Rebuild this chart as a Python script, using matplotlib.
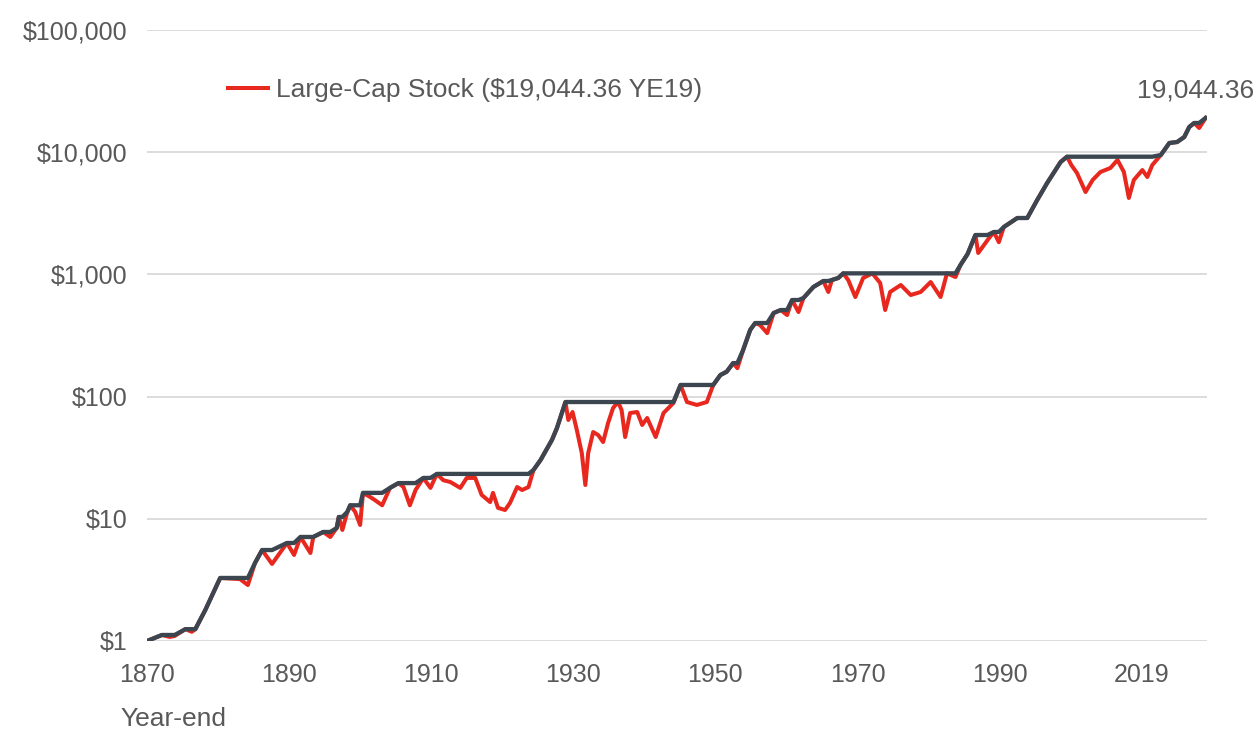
import matplotlib
matplotlib.use("Agg")
import matplotlib.pyplot as plt
from matplotlib.lines import Line2D
from matplotlib.ticker import FixedLocator, FuncFormatter
import numpy as np

plt.rcParams['font.family'] = ['Liberation Sans', 'DejaVu Sans']

# growth of $1 in large-cap stocks, year-end 1870 through 2019
years = [1870.0, 1872.1, 1873.2, 1873.9, 1875.4, 1876.3, 1876.8, 1878.2, 1880.3, 1883.1,
         1884.2, 1885.2, 1886.2, 1887.6, 1889.7, 1890.7, 1891.6, 1893.0, 1893.4, 1894.8,
         1895.8, 1896.7, 1897.0, 1897.5, 1898.2, 1898.6, 1899.3, 1900.0, 1900.4, 1901.4,
         1902.1, 1903.1, 1904.2, 1905.4, 1906.1, 1907.0, 1907.8, 1908.9, 1909.9, 1910.8,
         1911.7, 1912.7, 1914.1, 1915.0, 1916.2, 1917.1, 1918.3, 1918.7, 1919.4, 1920.4,
         1921.1, 1922.1, 1922.8, 1923.7, 1924.4, 1925.4, 1927.0, 1927.7, 1928.9, 1929.3,
         1929.9, 1930.5, 1931.2, 1931.7, 1932.1, 1932.8, 1933.5, 1934.2, 1934.9, 1935.6,
         1936.3, 1936.8, 1937.3, 1938.0, 1939.0, 1939.7, 1940.4, 1941.6, 1942.7, 1944.1,
         1945.1, 1946.0, 1947.4, 1948.8, 1949.7, 1950.7, 1951.6, 1952.5, 1953.1, 1953.9,
         1954.9, 1955.6, 1956.3, 1957.3, 1958.2, 1959.2, 1960.1, 1960.8, 1961.7, 1962.4,
         1963.8, 1965.2, 1965.9, 1966.4, 1967.3, 1968.0, 1968.7, 1969.7, 1970.8, 1972.1,
         1973.2, 1973.9, 1974.6, 1976.1, 1977.5, 1978.9, 1980.3, 1981.7, 1982.6, 1983.8,
         1984.5, 1985.5, 1986.6, 1987.0, 1988.3, 1989.2, 1989.9, 1990.6, 1992.5, 1993.9,
         1995.3, 1996.7, 1997.6, 1998.6, 1999.5, 2000.1, 2000.9, 2002.1, 2003.1, 2004.2,
         2005.6, 2006.6, 2007.5, 2008.2, 2008.9, 2010.1, 2010.8, 2011.5, 2012.7, 2013.9,
         2015.0, 2016.0, 2016.7, 2017.4, 2018.1, 2019.0]
values = [1.00, 1.12, 1.08, 1.10, 1.25, 1.19, 1.25, 1.79, 3.28, 3.21,
          2.87, 4.35, 5.55, 4.27, 6.34, 5.06, 7.10, 5.25, 7.10, 7.80,
          7.10, 8.41, 10.35, 8.10, 11.4, 12.9, 11.4, 8.9, 16.3, 15.1,
          14.2, 12.9, 17.9, 19.6, 18.2, 12.9, 17.2, 21.6, 17.9, 23.3,
          20.7, 20.0, 17.9, 21.6, 21.6, 15.7, 13.7, 16.3, 12.3, 11.8,
          13.5, 18.2, 17.2, 18.2, 25.1, 30.3, 44.2, 55.3, 90.3, 64.4,
          74.8, 53.3, 34.5, 18.9, 34.5, 51.3, 48.5, 42.5, 60.8, 80.7,
          90.3, 77.7, 46.7, 73.4, 74.8, 58.6, 66.8, 46.7, 73.4, 88.7,
          124.5, 90.3, 85.4, 90.3, 124.5, 150, 160, 188, 171, 240,
          351, 400, 385, 331, 483, 511, 465, 617, 492, 641,
          789, 883, 718, 900, 935, 1020, 900, 653, 935, 1020,
          851, 511, 718, 819, 678, 718, 866, 653, 1020, 952,
          1194, 1469, 2100, 1497, 1906, 2224, 1835, 2443, 2894, 2894,
          4063, 5598, 6758, 8318, 9187, 7855, 6758, 4723, 5922, 6887,
          7425, 8636, 6887, 4220, 5922, 7148, 6266, 7855, 9487, 11890,
          12120, 13310, 16080, 17340, 15780, 19044.36]

tick_years = [1870, 1890, 1910, 1930, 1950, 1970, 1990, 2010]
tick_labels = ['1870', '1890', '1910', '1930', '1950', '1970', '1990', '2019']
y_ticks = [1, 10, 100, 1000, 10000, 100000]

years = np.array(years)
values = np.array(values)
peak = np.maximum.accumulate(values)

red = '#e8281e'
slate = '#3b4651'
grey_text = '#595959'

fig = plt.figure(figsize=(12.58, 7.32), dpi=100)
ax = fig.add_axes([147 / 1258, 1 - 641 / 732, (1207 - 147) / 1258, (641 - 30) / 732])

ax.plot(years, values, color=red, lw=2.9, solid_joinstyle='round', zorder=3)
ax.plot(years, peak, color=slate, lw=3.1, solid_joinstyle='round', zorder=4)

ax.set_yscale('log')
ax.set_ylim(1, 100000)
ax.set_xlim(1870, 2019.2)
ax.yaxis.set_major_locator(FixedLocator(y_ticks))
ax.yaxis.set_minor_locator(FixedLocator([]))
ax.yaxis.set_major_formatter(FuncFormatter(lambda v, p: '${:,.0f}'.format(v)))
ax.set_xticks(tick_years)
ax.set_xticklabels(tick_labels)

ax.grid(axis='y', color='#d9d9d9', lw=1.3, zorder=0)
for s in ax.spines.values():
    s.set_visible(False)
ax.tick_params(axis='both', length=0, labelsize=18, labelcolor=grey_text)
ax.tick_params(axis='x', pad=16)
ax.tick_params(axis='y', pad=14)

# end value callout
ax.annotate('19,044.36', xy=(years[-1], values[-1]), xytext=(-10, 28),
            textcoords='offset pixels', ha='center', va='center',
            fontsize=19, color=grey_text)

handle = Line2D([], [], color=red, lw=2.9)
ax.legend([handle], ['Large-Cap Stock ($19,044.36 YE19)'], loc='center left',
          bbox_to_anchor=(228 / 1258, 1 - 90 / 732), bbox_transform=fig.transFigure,
          frameon=False, fontsize=19, labelcolor=grey_text, borderpad=0,
          borderaxespad=0, handlelength=1.5, handletextpad=0.3)

fig.text(120 / 1258, 1 - 719 / 732, 'Year-end', fontsize=19, color=grey_text,
         ha='left', va='center')

plt.savefig('out.png', dpi=100)
